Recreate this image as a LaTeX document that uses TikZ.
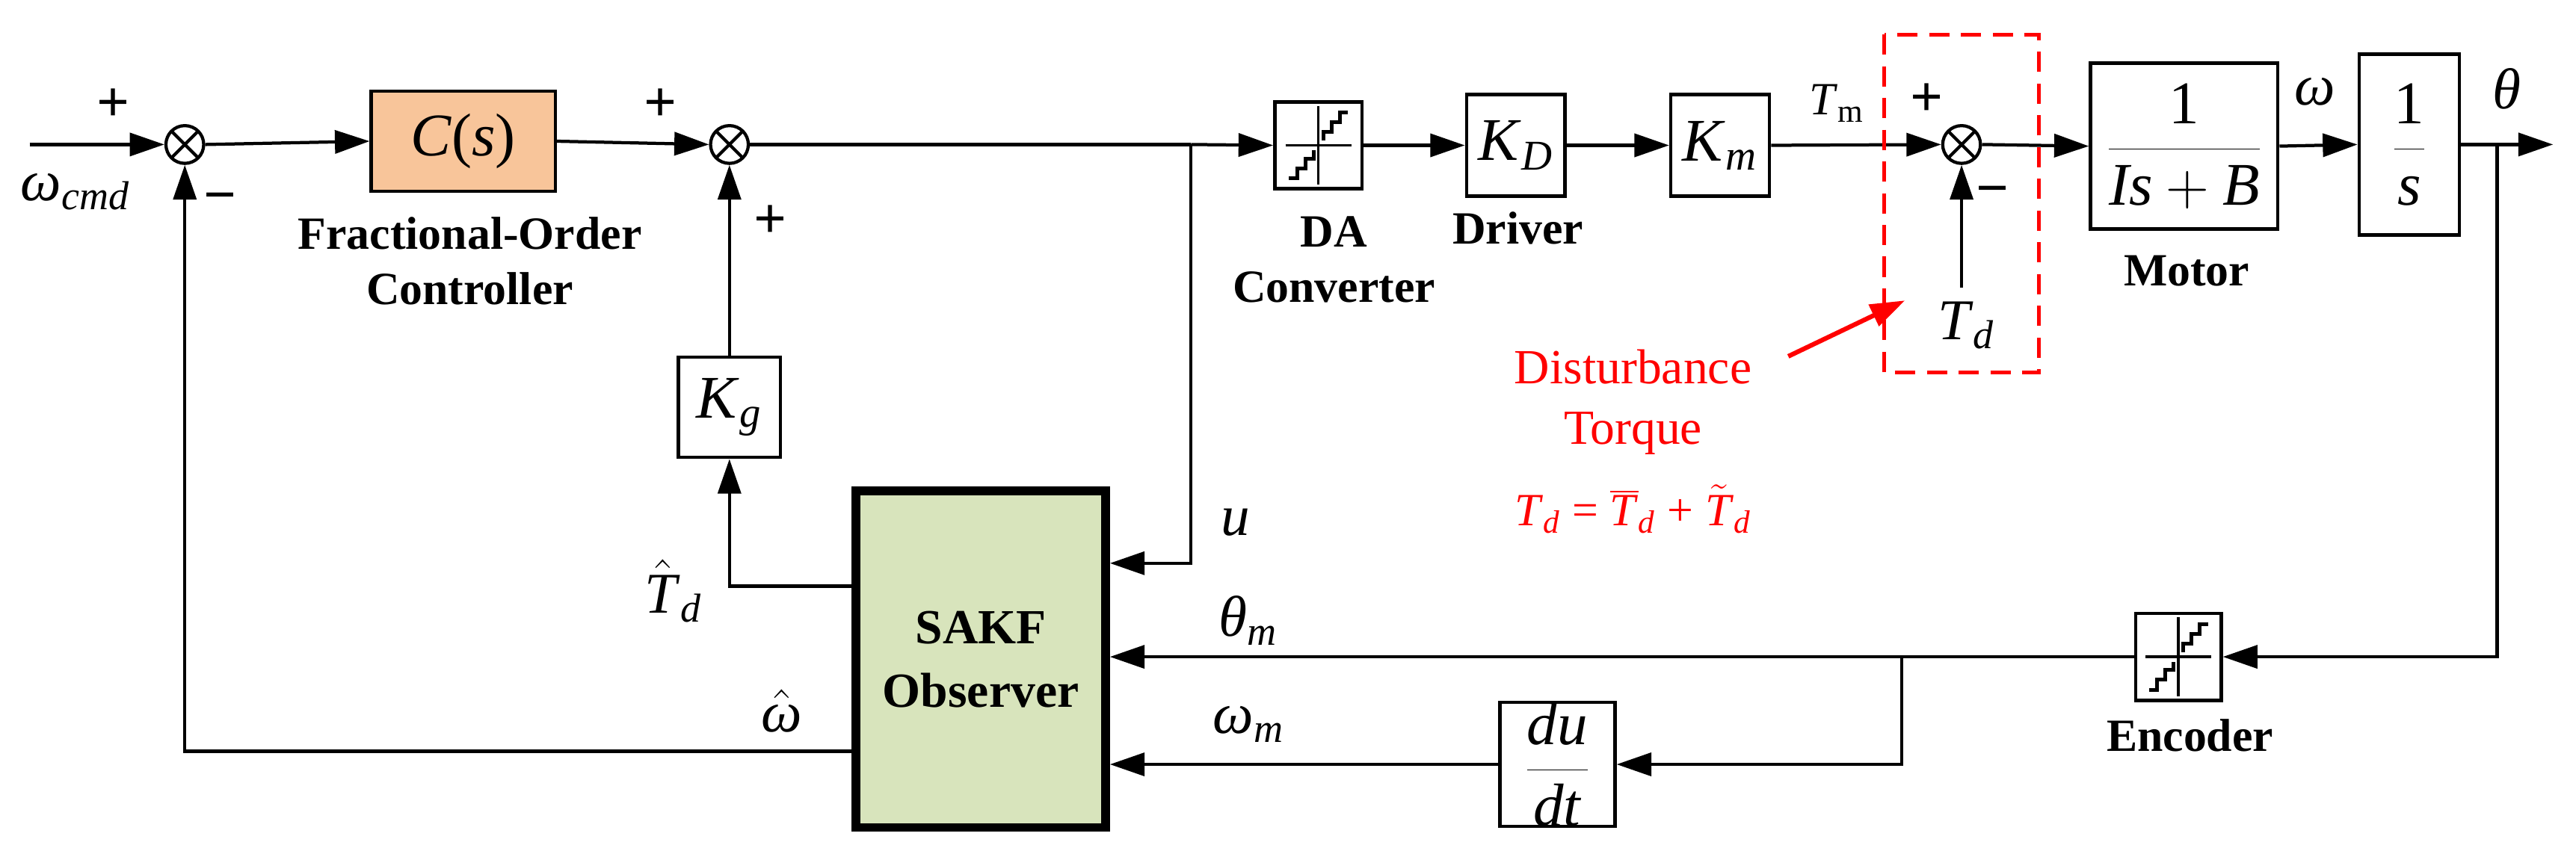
\documentclass[tikz,border=0pt]{standalone}
\usepackage{fontspec}
\setmainfont{Liberation Serif}
\usetikzlibrary{arrows.meta}
\newcommand\sbi[2]{\textit{#1}\textsubscript{\textit{#2}}}
\newcommand\mi[1]{\mbox{\textit{#1}}}
\begin{document}
\begin{tikzpicture}[x=0.02cm,y=-0.02cm,line width=1.1pt,
  >={Triangle[length=12pt,width=8pt]},
  blk/.style={draw,line width=1.2pt,rectangle,inner sep=0pt,font=\fontsize{21}{23}\selectfont},
  sum/.style={draw,circle,minimum size=23*0.02cm,inner sep=0pt,line width=1.1pt,
    path picture={\draw (path picture bounding box.north west)--(path picture bounding box.south east)
      (path picture bounding box.north east)--(path picture bounding box.south west);}},
  lbl/.style={font=\fontsize{16}{19}\selectfont\bfseries,align=center},
  sig/.style={font=\fontsize{20}{22}\selectfont},
  pm/.style={font=\fontsize{20}{20}\selectfont\bfseries},
  quant/.pic={\draw[line width=0.9pt] (-20,0)--(20,0) (0,-24)--(0,24);
    \draw[line width=1.3pt] (-18,20)--(-13,20)--(-13,14)--(-8,14)--(-8,8)--(-3,8)--(-3,3);
    \draw[line width=1.3pt] (3,-3)--(3,-8)--(8,-8)--(8,-14)--(13,-14)--(13,-20)--(18,-20);}]
\useasboundingbox (0,0) rectangle (1568,518);
% nodes
\node[sum] (s1) at (112.5,88) {};
\node[blk,fill={rgb,255:red,248;green,197;blue,154},minimum width=112*0.02cm,minimum height=61*0.02cm] (cs) at (282,86) {\textit{C}(\textit{s})};
\node[sum] (s2) at (444,88) {};
\node[blk,minimum width=53*0.02cm,minimum height=53*0.02cm] (da) at (802.5,88.5) {};
\pic at (802.5,88.5) {quant};
\node[blk,minimum width=60*0.02cm,minimum height=62*0.02cm] (kd) at (922.7,88.5) {\sbi{K}{D}};
\node[blk,minimum width=60*0.02cm,minimum height=62*0.02cm] (km) at (1047,88.5) {\sbi{K}{m}};
\node[sum] (s3) at (1194,88) {};
\node[blk,minimum width=114*0.02cm,minimum height=101*0.02cm] (motor) at (1329.5,89) {$\displaystyle\frac{\mbox{1}}{\mi{Is} + \mi{B}}$};
\node[blk,minimum width=61*0.02cm,minimum height=110*0.02cm] (ints) at (1466.5,88) {$\displaystyle\frac{\mbox{1}}{\mi{s}}$};
\node[blk,minimum width=62*0.02cm,minimum height=61*0.02cm] (kg) at (444,248) {\sbi{K}{g}};
\node[blk,line width=3pt,fill={rgb,255:red,216;green,228;blue,188},minimum width=152*0.02cm,minimum height=205*0.02cm,font=\fontsize{17}{22}\selectfont\bfseries,align=center] (sakf) at (597,401.5) {SAKF\\Observer};
\node[blk,minimum width=52*0.02cm,minimum height=53*0.02cm] (enc) at (1326,400) {};
\pic at (1326,400) {quant};
\node[blk,minimum width=70*0.02cm,minimum height=70*0.02cm] (dudt) at (948,465.5) {$\displaystyle\frac{\mi{du}}{\mi{dt}}$};
% coordinates
\coordinate (in) at (18,88);
\coordinate (b1) at (725,88);
\coordinate (out) at (1554,88);
\coordinate (b2) at (1520,88);
\coordinate (b3) at (1157.5,400);
\coordinate (tdin) at (1194,175);
% connectors
\draw[->] (in) -- (s1.west);
\draw[->] (s1.east) -- (cs.west);
\draw[->] (cs.east) -- (s2.west);
\draw (s2.east) -- (b1);
\draw[->] (b1) -- (da.west);
\draw[->] (da.east) -- (kd.west);
\draw[->] (kd.east) -- (km.west);
\draw[->] (km.east) -- (s3.west);
\draw[->] (s3.east) -- (motor.west);
\draw[->] (motor.east) -- (ints.west);
\draw[->] (ints.east) -- (out);
\draw[->] (b2) |- (enc.east);
\draw[->] (enc.west) -- (sakf.east |- enc.west);
\draw[->] (b3) |- (dudt.east);
\draw[->] (dudt.west) -- (sakf.east |- dudt.west);
\draw[->] (b1) |- (sakf.east |- 0,343);
\draw[->] (sakf.west |- 0,357) -| (kg.south);
\draw[->] (kg.north) -- (s2.south);
\draw[->] (sakf.west |- 0,457.5) -| (s1.south);
\draw[->] (tdin) -- (s3.south);
% signs
\node[pm] at (69,64) {+};
\node[pm] at (134,124) {\textminus};
\node[pm] at (402,64) {+};
\node[pm] at (469,135) {+};
\node[pm] at (1173,61) {+};
\node[pm] at (1213,120) {\textminus};
% labels
\node[sig] at (46,117) {\sbi{ω}{cmd}};
\node[lbl] at (286,159) {Fractional-Order\\Controller};
\node[lbl] at (812,158) {DA\\Converter};
\node[lbl] at (924,139) {Driver};
\node[lbl] at (1331,165) {Motor};
\node[lbl] at (1333,448) {Encoder};
\node[font=\fontsize{16}{18}\selectfont] at (1118,63) {\textit{T}\textsubscript{m}};
\node[sig] at (1197,198) {\sbi{T}{d}};
\node[sig] at (1409,56) {\textit{ω}};
\node[sig] at (1526,54) {\textit{θ}};
\node[sig] at (752,318) {\textit{u}};
\node[sig] at (760,378) {\sbi{θ}{m}};
\node[sig] at (760,441) {\sbi{ω}{m}};
\node[sig] at (410,360) {$\hat{\mi{T}}$\textsubscript{\textit{d}}};
\node[sig] at (476,433) {$\hat{\mi{ω}}$};
% disturbance
\draw[red,dashed,line width=1.3pt,dash pattern=on 7pt off 4pt] (1147,21) rectangle (1241,227);
\node[red,font=\fontsize{17}{21}\selectfont,align=center] (dist) at (994,245) {Disturbance\\Torque};
\node[red,font=\fontsize{16}{18}\selectfont] at (994,310) {\sbi{T}{d} = $\overline{\mi{T}}$\textsubscript{\textit{d}} + $\tilde{\mi{T}}$\textsubscript{\textit{d}}};
\coordinate (rtip) at (1159.5,183);
\draw[red,line width=1.6pt,->] (1088.5,217) -- (rtip);
\end{tikzpicture}
\end{document}
